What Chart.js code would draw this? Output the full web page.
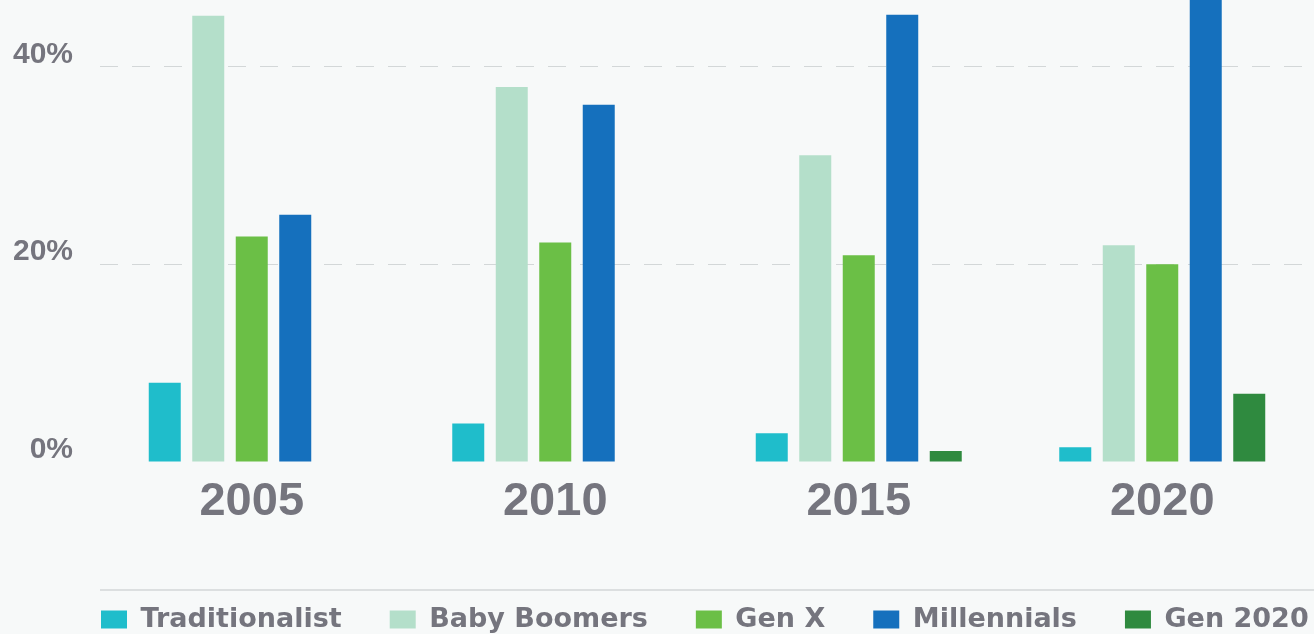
<!DOCTYPE html>
<html>
<head>
<meta charset="utf-8">
<script src="https://cdn.jsdelivr.net/npm/chart.js@4/dist/chart.umd.min.js"></script>
<style>
  html, body { margin: 0; padding: 0; background: #f7f9f9; }
  #wrap { width: 1314px; height: 634px; position: relative; }
</style>
</head>
<body>
<div id="wrap"><canvas id="c"></canvas></div>
<script>
const categories = ['2005', '2010', '2015', '2020'];
const traditionalist = [8.0, 3.9, 2.9, 1.5];
const babyBoomers = [45.1, 37.9, 31.0, 21.9];
const genX = [22.8, 22.2, 20.9, 20.0];
const millennials = [25.0, 36.1, 45.2, 48.0];
const gen2020 = [null, null, 1.1, 6.9];
const yTicks = [0, 20, 40];

const textGray = '#75757e';
const LEGEND_PAD = 48;

const legendFit = {
  id: 'legendFit',
  beforeInit(chart) {
    const orig = chart.legend.fit;
    chart.legend.fit = function () {
      // keep all legend items on one row (wide item gaps)
      this.maxWidth = Math.max(this.maxWidth || 0, 2000);
      orig.call(this);
      this.height = 76;
    };
  },
  afterLayout(chart) {
    // align first legend box with the plot's left edge
    chart.legend.left = chart.chartArea.left + 1 - LEGEND_PAD;
    chart.legend.right = chart.width + 400;
  }
};

const separator = {
  id: 'separator',
  afterDraw(chart) {
    const ctx = chart.ctx;
    const y = chart.legend.top + 32;
    ctx.save();
    ctx.strokeStyle = '#dcdfe0';
    ctx.lineWidth = 2;
    ctx.beginPath();
    ctx.moveTo(chart.chartArea.left, y);
    ctx.lineTo(chart.width, y);
    ctx.stroke();
    ctx.restore();
  }
};

new Chart(document.getElementById('c'), {
  type: 'bar',
  data: {
    labels: categories,
    datasets: [
      { label: 'Traditionalist', data: traditionalist, backgroundColor: '#1fbdcb' },
      { label: 'Baby Boomers', data: babyBoomers, backgroundColor: '#b4dfca' },
      { label: 'Gen X', data: genX, backgroundColor: '#6bbf46' },
      { label: 'Millennials', data: millennials, backgroundColor: '#1570bd' },
      { label: 'Gen 2020', data: gen2020, backgroundColor: '#2f8a3f' }
    ]
  },
  options: {
    responsive: true,
    maintainAspectRatio: false,
    animation: false,
    layout: { padding: 0 },
    datasets: {
      bar: { categoryPercentage: 0.7166, barPercentage: 0.7356, borderWidth: 0 }
    },
    scales: {
      x: {
        grid: { display: false, drawTicks: false },
        border: { display: false },
        ticks: {
          color: textGray,
          padding: 12,
          font: { family: 'Liberation Sans', weight: 'bold', size: 47 }
        },
        afterFit(scale) {
          scale.height = 96;
          scale.paddingLeft = 0;
          scale.paddingRight = 0;
        }
      },
      y: {
        min: 0,
        max: 46.7,
        grid: {
          drawTicks: false,
          color: (ctx) => (ctx.tick && ctx.tick.value === 0) ? 'rgba(0,0,0,0)' : '#d3d7d8',
          lineWidth: 1
        },
        border: { display: false, dash: [18, 14] },
        afterBuildTicks(scale) { scale.ticks = yTicks.map(v => ({ value: v })); },
        afterFit(scale) {
          scale.width = 100;
          scale.paddingTop = 0;
          scale.paddingBottom = 0;
        },
        ticks: {
          color: textGray,
          padding: 27,
          labelOffset: -12,
          font: { family: 'Liberation Sans', weight: 'bold', size: 30 },
          callback: (v) => v + '%'
        }
      }
    },
    plugins: {
      tooltip: { enabled: false },
      legend: {
        position: 'bottom',
        align: 'start',
        labels: {
          color: textGray,
          boxWidth: 26,
          boxHeight: 18,
          padding: LEGEND_PAD,
          font: { family: 'DejaVu Sans', weight: 'bold', size: 27 }
        }
      }
    }
  },
  plugins: [legendFit, separator]
});
</script>
</body>
</html>
